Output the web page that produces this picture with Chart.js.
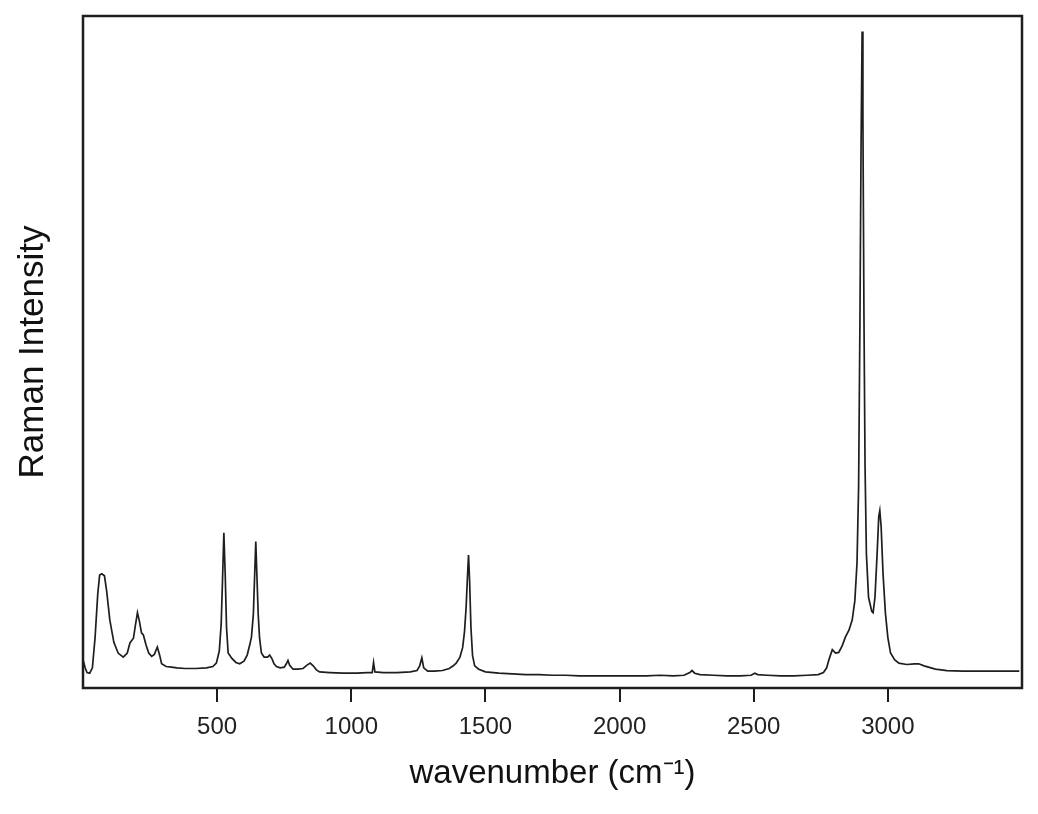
<!DOCTYPE html>
<html>
<head>
<meta charset="utf-8">
<title>Raman spectrum</title>
<script src="https://cdn.jsdelivr.net/npm/chart.js@4.4.1/dist/chart.umd.min.js"></script>
<style>
    html, body { margin: 0; padding: 0; background: #fff; }
    #wrap { width: 1038px; height: 814px; position: relative; }
</style>
</head>
<body>
<div id="wrap"><canvas id="ramanChart"></canvas></div>
<script>
// spectrum: wavenumber (cm-1) and relative intensity (0-100 of the plot height)
var wavenumbers = [
    0, 8, 15, 25, 35, 45, 55, 62, 70, 80, 88, 100, 115, 131, 150, 165, 175, 188, 196, 203,
    210, 218, 225, 235, 245, 256, 266, 277, 285, 293, 310, 330, 350, 380, 420, 460, 484, 497, 508, 515,
    520, 525, 530, 535, 541, 555, 570, 584, 600, 612, 622, 628, 635, 640, 644, 648, 653, 658, 665, 675,
    688, 696, 705, 712, 721, 735, 750, 758, 764, 770, 783, 800, 820, 835, 847, 858, 870, 882, 920, 970,
    1020, 1060, 1078, 1083, 1088, 1120, 1170, 1220, 1245, 1255, 1263, 1270, 1285, 1310, 1340, 1365, 1380, 1391, 1405, 1415,
    1422, 1428, 1433, 1437, 1441, 1446, 1452, 1460, 1475, 1500, 1550, 1600, 1650, 1700, 1750, 1800, 1850, 1900, 1950, 2000,
    2050, 2100, 2150, 2200, 2240, 2262, 2270, 2280, 2300, 2350, 2400, 2450, 2490, 2504, 2515, 2550, 2600, 2650, 2700, 2740,
    2760, 2772, 2781, 2793, 2805, 2817, 2830, 2842, 2855, 2867, 2877, 2885, 2891, 2896, 2900, 2904, 2907, 2911, 2915, 2920,
    2928, 2940, 2945, 2952, 2960, 2966, 2970, 2975, 2982, 2991, 3000, 3010, 3025, 3041, 3070, 3100, 3115, 3135, 3177, 3220,
    3280, 3338, 3400, 3450, 3490
];
var intensities = [
    4.2, 3.0, 2.3, 2.2, 3.0, 7.5, 14.0, 16.8, 17.0, 16.7, 14.5, 10.1, 6.8, 5.2, 4.6, 5.2, 6.7, 7.4, 9.5, 11.2,
    10.0, 8.2, 7.9, 6.4, 5.2, 4.7, 5.0, 6.1, 5.0, 3.6, 3.2, 3.1, 3.0, 2.9, 2.9, 3.0, 3.2, 3.7, 5.5, 9.5,
    16.0, 23.1, 17.0, 9.0, 5.2, 4.4, 3.8, 3.6, 4.0, 4.9, 6.5, 7.6, 11.0, 17.0, 21.8, 17.0, 11.0, 7.5, 5.2, 4.6,
    4.6, 4.9, 4.3, 3.6, 3.2, 3.0, 3.1, 3.6, 4.1, 3.4, 2.8, 2.8, 2.9, 3.4, 3.7, 3.3, 2.7, 2.4, 2.3, 2.2,
    2.2, 2.3, 2.3, 3.8, 2.4, 2.3, 2.3, 2.4, 2.6, 3.3, 4.5, 3.0, 2.5, 2.5, 2.6, 2.9, 3.3, 3.7, 4.6, 6.0,
    8.4, 12.0, 16.5, 19.8, 16.0, 9.0, 4.8, 3.3, 2.8, 2.4, 2.2, 2.1, 2.0, 2.0, 1.9, 1.9, 1.8, 1.8, 1.8, 1.8,
    1.8, 1.8, 1.9, 1.8, 1.9, 2.3, 2.6, 2.2, 2.0, 1.9, 1.8, 1.8, 1.9, 2.2, 2.0, 1.9, 1.8, 1.8, 1.9, 2.0,
    2.3, 3.0, 4.3, 5.7, 5.2, 5.3, 6.3, 7.6, 8.6, 10.1, 13.0, 18.6, 30.0, 55.0, 80.0, 97.7, 85.0, 55.0, 33.0, 20.0,
    13.5, 11.4, 11.2, 13.5, 20.0, 25.5, 26.4, 24.0, 17.0, 11.1, 7.5, 5.2, 4.2, 3.7, 3.5, 3.6, 3.6, 3.3, 2.8, 2.6,
    2.5, 2.5, 2.5, 2.5, 2.5
];
var xTickValues = [500, 1000, 1500, 2000, 2500, 3000];
var xTitle = 'wavenumber (cm\u207B\u00B9)';
var yTitle = 'Raman Intensity';

(function() {
    'use strict';

    var fontFamily = '"Liberation Sans", Arial, Helvetica, sans-serif';
    var ink = '#1e1e1e';

    var points = wavenumbers.map(function(wn, i) {
        return { x: wn, y: intensities[i] };
    });

    // box around the plot area (all four sides)
    var frame = {
        id: 'frame',
        afterDraw: function(chart) {
            var a = chart.chartArea;
            var ctx = chart.ctx;
            ctx.save();
            ctx.strokeStyle = ink;
            ctx.lineWidth = 2.5;
            ctx.strokeRect(a.left, a.top, a.right - a.left, a.bottom - a.top);
            ctx.restore();
        }
    };

    new Chart(document.getElementById('ramanChart'), {
        type: 'line',
        data: {
            datasets: [{
                label: yTitle,
                data: points,
                borderColor: ink,
                borderWidth: 1.7,
                pointRadius: 0,
                tension: 0,
                fill: false
            }]
        },
        options: {
            responsive: true,
            maintainAspectRatio: false,
            animation: false,
            layout: { padding: { top: 16, right: 16, left: 0, bottom: 0 } },
            plugins: {
                legend: { display: false },
                tooltip: { enabled: false }
            },
            scales: {
                x: {
                    type: 'linear',
                    min: 0,
                    max: 3500,
                    afterBuildTicks: function(axis) {
                        axis.ticks = xTickValues.map(function(v) { return { value: v }; });
                    },
                    afterFit: function(axis) { axis.height = 126; },
                    border: { display: false },
                    grid: {
                        display: true,
                        drawOnChartArea: false,
                        drawTicks: true,
                        tickLength: 14,
                        color: ink,
                        lineWidth: 2
                    },
                    ticks: {
                        color: '#222',
                        padding: 11,
                        maxRotation: 0,
                        font: { family: fontFamily, size: 24 },
                        callback: function(value) { return String(value); }
                    },
                    title: {
                        display: true,
                        text: xTitle,
                        color: '#111',
                        padding: { top: 0, bottom: 20 },
                        font: { family: fontFamily, size: 33 }
                    }
                },
                y: {
                    type: 'linear',
                    min: 0,
                    max: 100,
                    afterFit: function(axis) { axis.width = 83; },
                    border: { display: false },
                    grid: { display: false },
                    ticks: { display: false },
                    title: {
                        display: true,
                        text: yTitle,
                        color: '#111',
                        padding: { top: 12, bottom: 0 },
                        font: { family: fontFamily, size: 35 }
                    }
                }
            }
        },
        plugins: [frame]
    });
})();
</script>
</body>
</html>
